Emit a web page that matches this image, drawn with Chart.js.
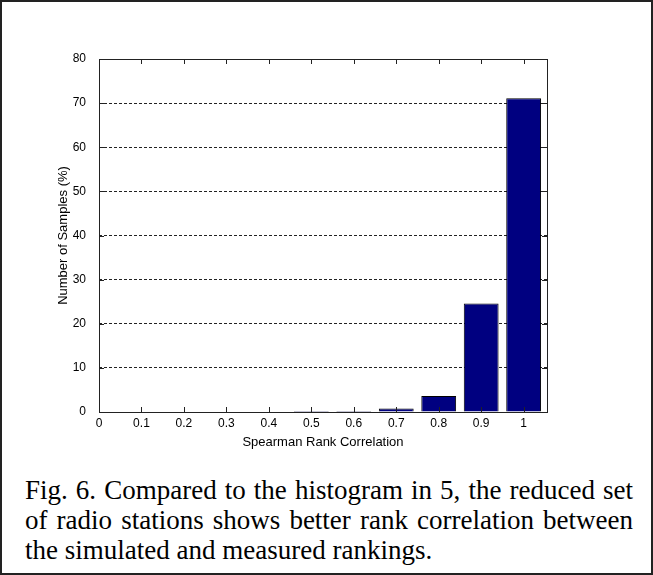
<!DOCTYPE html>
<html>
<head>
<meta charset="utf-8">
<script src="https://cdn.jsdelivr.net/npm/chart.js@4.4.1/dist/chart.umd.min.js"></script>
<style>
  html, body { margin: 0; padding: 0; background: #fff; }
  #frame { position: absolute; left: 0; top: 0; width: 653px; height: 575px; box-sizing: border-box; border: 2px solid #222; }
  #plot { position: absolute; left: 0; top: 0; }
  #caption {
    position: absolute; left: 25px; top: 475px; width: 608px;
    font-family: "Liberation Serif", "Times New Roman", serif; font-size: 27px; line-height: 30px;
    color: #000; white-space: nowrap;
  }
  #caption .j { text-align: justify; text-align-last: justify; }
</style>
</head>
<body>
<div id="frame"></div>
<canvas id="plot" width="653" height="460"></canvas>
<div id="caption">
  <div class="j">Fig. 6. Compared to the histogram in 5, the reduced set</div>
  <div class="j">of radio stations shows better rank correlation between</div>
  <div>the simulated and measured rankings.</div>
</div>
<script>
// histogram korelasi Spearman
const binCenters = [0, 0.1, 0.2, 0.3, 0.4, 0.5, 0.6, 0.7, 0.8, 0.9, 1];
const samplePct = [0, 0, 0, 0, 0, 0.25, 0.25, 0.8, 3.6, 24.6, 71.1];
const xTicks = [0, 0.1, 0.2, 0.3, 0.4, 0.5, 0.6, 0.7, 0.8, 0.9, 1];
const xTickLabels = ["0", "0.1", "0.2", "0.3", "0.4", "0.5", "0.6", "0.7", "0.8", "0.9", "1"];
const yTicks = [0, 10, 20, 30, 40, 50, 60, 70, 80];

const TICK_FONT = { family: "'Liberation Sans', Arial, sans-serif", size: 12 };
const TITLE_FONT = { family: "'Liberation Sans', Arial, sans-serif", size: 13 };

// kotak ala matlab + tick ke dalam di keempat sisi
const boxTicks = {
  id: "boxTicks",
  afterDraw(chart) {
    const { ctx, chartArea: a, scales } = chart;
    const len = 5;
    ctx.save();
    ctx.strokeStyle = "#222";
    ctx.lineWidth = 1;
    ctx.beginPath();
    scales.x.ticks.forEach(t => {
      const px = Math.round(scales.x.getPixelForValue(t.value)) + 0.5;
      ctx.moveTo(px, a.bottom); ctx.lineTo(px, a.bottom - len);
      ctx.moveTo(px, a.top); ctx.lineTo(px, a.top + len);
    });
    scales.y.ticks.forEach(t => {
      const py = Math.round(scales.y.getPixelForValue(t.value)) + 0.5;
      ctx.moveTo(a.left, py); ctx.lineTo(a.left + len, py);
      ctx.moveTo(a.right, py); ctx.lineTo(a.right - len, py);
    });
    ctx.stroke();
    ctx.strokeRect(Math.round(a.left) + 0.5, Math.round(a.top) + 0.5, Math.round(a.right - a.left), Math.round(a.bottom - a.top));
    ctx.restore();
  }
};

new Chart(document.getElementById("plot"), {
  type: "bar",
  data: {
    datasets: [{
      data: binCenters.map((x, i) => ({ x, y: samplePct[i] })),
      backgroundColor: "#000080",
      borderColor: "#000",
      borderWidth: 1,
      borderSkipped: "bottom",
      barPercentage: 0.82,
      categoryPercentage: 1
    }]
  },
  options: {
    responsive: false,
    animation: false,
    layout: { padding: { left: 0, top: 59, right: 106, bottom: 0 } },
    plugins: { legend: { display: false }, tooltip: { enabled: false } },
    scales: {
      x: {
        type: "linear",
        min: 0,
        max: 1.055,
        offset: false,
        afterBuildTicks: axis => { axis.ticks = xTicks.map(v => ({ value: v })); },
        afterFit: axis => { axis.height = 48; },
        ticks: {
          color: "#000",
          font: TICK_FONT,
          padding: 4,
          maxRotation: 0,
          autoSkip: false,
          callback: (v, i) => xTickLabels[i]
        },
        grid: { display: false, drawTicks: false, offset: false },
        border: { display: false },
        title: { display: true, text: "Spearman Rank Correlation", color: "#000", font: TITLE_FONT, padding: { top: 0, bottom: 10 } }
      },
      y: {
        min: 0,
        max: 80,
        afterBuildTicks: axis => { axis.ticks = yTicks.map(v => ({ value: v })); },
        afterFit: axis => { axis.width = 99; },
        ticks: { color: "#000", font: TICK_FONT, padding: 13 },
        grid: {
          drawTicks: false,
          color: c => (c.tick && c.tick.value > 0 && c.tick.value < 80) ? "#222" : "rgba(0,0,0,0)",
          lineWidth: 1
        },
        border: { display: false, dash: [3, 2] },
        title: { display: true, text: "Number of Samples (%)", color: "#000", font: TITLE_FONT, padding: { top: 56, bottom: 0 } }
      }
    }
  },
  plugins: [boxTicks]
});
</script>
</body>
</html>
